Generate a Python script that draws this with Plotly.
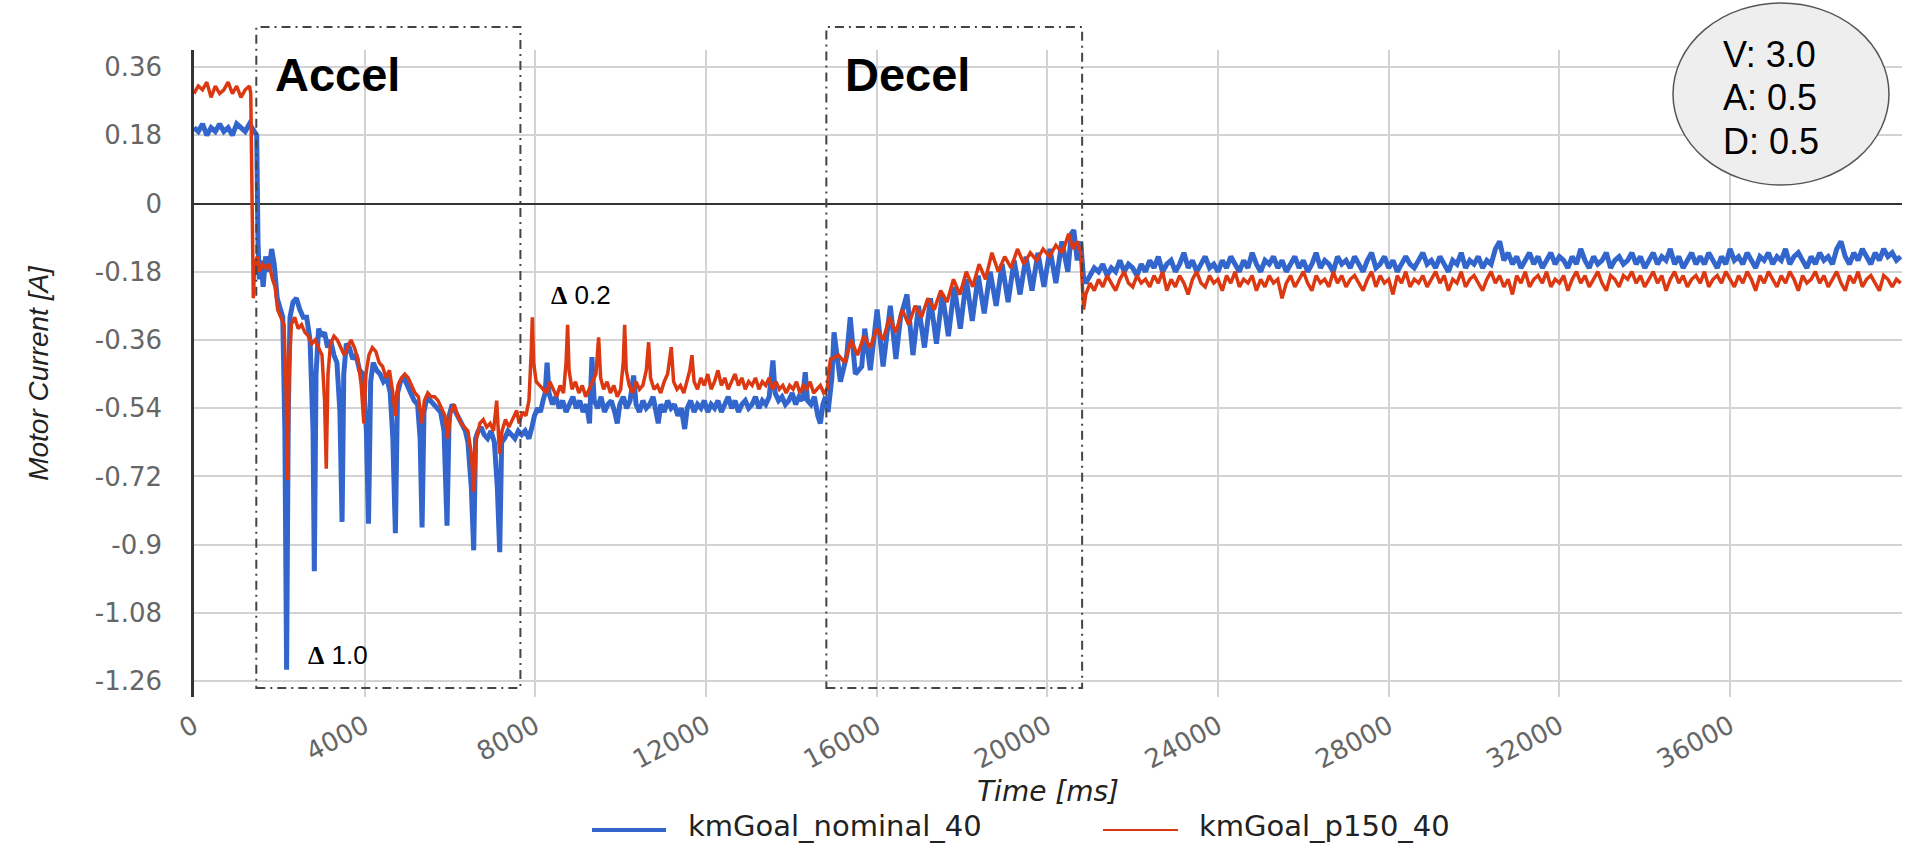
import plotly.graph_objects as go

# ---------------- kmGoal_nominal_40 : motion profile (time ms, current A) ----------------
nominal_t = [
    0, 100, 200, 300, 400, 500, 600, 700, 800, 900, 1000, 1100, 1200, 1300, 1400, 1470,
    1500, 1530, 1570, 1620, 1680, 1750, 1820, 1880, 1950, 2020, 2080, 2130, 2170, 2210,
    2250, 2320, 2400, 2480, 2560, 2640, 2720, 2790, 2820, 2860, 2920, 2990, 3060, 3130,
    3200, 3280, 3350, 3420, 3470, 3510, 3570, 3640, 3720, 3800, 3880, 3960, 4040, 4090,
    4140, 4200, 4280, 4360, 4440, 4520, 4600, 4660, 4720, 4770, 4840, 4920, 5000, 5080,
    5160, 5240, 5300, 5345, 5390, 5460, 5540, 5620, 5700, 5780, 5860, 5930, 5980, 6050,
    6130, 6210, 6290, 6360, 6420, 6500, 6555, 6600, 6660, 6730, 6800, 6880, 6960, 7040,
    7110, 7165, 7210, 7280, 7360, 7440, 7520, 7600, 7680, 7760, 7850, 7920, 7980, 8050,
    8120, 8180, 8230, 8275, 8320, 8400, 8480, 8560, 8640, 8720, 8800, 8880, 8960, 9040,
    9120, 9200, 9270, 9326, 9380, 9460, 9540, 9620, 9700, 9780, 9860, 9920, 9980, 10060,
    10140, 10220, 10304, 10360, 10440, 10520, 10600, 10680, 10760, 10840, 10880, 10940, 11020, 11100,
    11180, 11260, 11340, 11420, 11500, 11560, 11640, 11720, 11800, 11880, 11960, 12040, 12120, 12200,
    12280, 12360, 12440, 12520, 12600, 12680, 12760, 12840, 12920, 13000, 13080, 13160, 13240, 13320,
    13400, 13480, 13568, 13620, 13700, 13780, 13860, 13940, 14020, 14100, 14180, 14260, 14325, 14380,
    14460, 14540, 14620, 14680, 14740, 14800, 14860, 14900, 14950, 15000, 15150, 15300, 15380, 15500,
    15650, 15720, 15850, 16010, 16150, 16320, 16450, 16560, 16710, 16850, 16980, 17120, 17260, 17400,
    17540, 17680, 17820, 17960, 18100, 18240, 18380, 18520, 18660, 18800, 18940, 19080, 19220, 19360,
    19500, 19640, 19780, 19920, 20060, 20200, 20340, 20480, 20560, 20620, 20700, 20780, 20850,
]
nominal_a = [
    0.20, 0.19, 0.21, 0.18, 0.20, 0.19, 0.21, 0.19, 0.20, 0.18, 0.21, 0.20, 0.19, 0.21, 0.19, 0.18,
    -0.10, -0.20, -0.15, -0.22, -0.14, -0.18, -0.12, -0.16, -0.25, -0.28, -0.30, -0.60, -1.23, -0.55,
    -0.30, -0.26, -0.25, -0.28, -0.30, -0.30, -0.36, -0.60, -0.97, -0.45, -0.33, -0.35, -0.34, -0.38,
    -0.36, -0.40, -0.42, -0.55, -0.84, -0.45, -0.37, -0.38, -0.41, -0.40, -0.44, -0.45, -0.60, -0.845,
    -0.47, -0.42, -0.44, -0.45, -0.47, -0.46, -0.50, -0.62, -0.87, -0.50, -0.47, -0.46, -0.48, -0.50,
    -0.52, -0.53, -0.62, -0.855, -0.55, -0.51, -0.52, -0.53, -0.54, -0.55, -0.60, -0.85, -0.56, -0.53,
    -0.55, -0.57, -0.59, -0.60, -0.63, -0.75, -0.915, -0.62, -0.60, -0.59, -0.61, -0.62, -0.60, -0.63,
    -0.75, -0.92, -0.63, -0.62, -0.60, -0.61, -0.62, -0.60, -0.61, -0.60, -0.62, -0.59, -0.56, -0.54,
    -0.55, -0.52, -0.50, -0.42, -0.50, -0.53, -0.51, -0.54, -0.52, -0.55, -0.53, -0.51, -0.54, -0.52,
    -0.55, -0.53, -0.58, -0.405, -0.52, -0.54, -0.51, -0.55, -0.53, -0.52, -0.55, -0.58, -0.53, -0.51,
    -0.54, -0.52, -0.454, -0.53, -0.55, -0.52, -0.54, -0.53, -0.51, -0.56, -0.58, -0.53, -0.55, -0.52,
    -0.54, -0.53, -0.56, -0.54, -0.595, -0.54, -0.52, -0.55, -0.53, -0.54, -0.52, -0.55, -0.53, -0.54,
    -0.52, -0.55, -0.53, -0.51, -0.54, -0.52, -0.55, -0.53, -0.52, -0.54, -0.53, -0.51, -0.54, -0.52,
    -0.53, -0.51, -0.414, -0.50, -0.52, -0.51, -0.53, -0.52, -0.50, -0.53, -0.51, -0.52, -0.445, -0.52,
    -0.53, -0.51, -0.56, -0.58, -0.53, -0.51, -0.55, -0.50, -0.46, -0.34, -0.47, -0.40, -0.30, -0.45,
    -0.43, -0.33, -0.44, -0.28, -0.43, -0.27, -0.41, -0.30, -0.24, -0.40, -0.27, -0.38, -0.25, -0.37,
    -0.24, -0.35, -0.22, -0.33, -0.20, -0.31, -0.19, -0.29, -0.18, -0.27, -0.16, -0.26, -0.15, -0.24,
    -0.14, -0.23, -0.13, -0.22, -0.12, -0.21, -0.10, -0.18, -0.08, -0.07, -0.15, -0.10, -0.20,
]

# ---------------- kmGoal_p150_40 : motion profile (time ms, current A) ----------------
p150_t = [
    0, 100, 200, 300, 400, 500, 600, 700, 800, 900, 1000, 1100, 1200, 1300, 1330, 1360,
    1390, 1420, 1480, 1540, 1600, 1680, 1760, 1840, 1900, 1960, 2040, 2110, 2160, 2195,
    2230, 2280, 2360, 2440, 2520, 2600, 2680, 2760, 2840, 2920, 3000, 3060, 3100, 3140,
    3200, 3280, 3360, 3440, 3520, 3600, 3680, 3760, 3840, 3920, 3980, 4030, 4100, 4180,
    4260, 4340, 4420, 4500, 4580, 4660, 4720, 4780, 4860, 4940, 5020, 5100, 5180, 5260,
    5340, 5400, 5480, 5560, 5640, 5720, 5800, 5880, 5950, 6020, 6100, 6180, 6260, 6340,
    6420, 6500, 6560, 6620, 6700, 6780, 6860, 6940, 7020, 7094, 7160, 7220, 7300, 7380,
    7460, 7563, 7620, 7700, 7780, 7850, 7900, 7930, 7960, 8020, 8100, 8180, 8260, 8340,
    8420, 8500, 8580, 8660, 8720, 8756, 8790, 8860, 8940, 9020, 9100, 9180, 9260, 9340,
    9420, 9483, 9530, 9600, 9680, 9760, 9840, 9920, 10000, 10060, 10093, 10130, 10200, 10280,
    10360, 10440, 10520, 10600, 10655, 10700, 10780, 10860, 10940, 11020, 11100, 11186, 11240, 11320,
    11400, 11480, 11560, 11620, 11670, 11720, 11800, 11880, 11960, 12040, 12120, 12200, 12280, 12360,
    12440, 12520, 12600, 12680, 12760, 12840, 12920, 13000, 13080, 13160, 13240, 13320, 13400, 13480,
    13560, 13640, 13720, 13800, 13880, 13960, 14040, 14120, 14200, 14280, 14360, 14440, 14520, 14600,
    14680, 14760, 14840, 14880, 14920, 14950, 15100, 15250, 15400, 15550, 15700, 15850, 16000, 16150,
    16300, 16450, 16600, 16750, 16900, 17050, 17200, 17350, 17500, 17650, 17800, 17950, 18100, 18250,
    18400, 18550, 18700, 18850, 19000, 19150, 19300, 19450, 19600, 19750, 19900, 20050, 20200, 20350,
    20500, 20600, 20700, 20780, 20850,
]
p150_a = [
    0.29, 0.31, 0.30, 0.32, 0.28, 0.31, 0.29, 0.30, 0.32, 0.29, 0.31, 0.28, 0.30, 0.31, 0.29, -0.05,
    -0.25, -0.17, -0.14, -0.18, -0.16, -0.17, -0.16, -0.20, -0.22, -0.28, -0.30, -0.32, -0.50, -0.73,
    -0.45, -0.32, -0.30, -0.33, -0.32, -0.34, -0.35, -0.37, -0.36, -0.38, -0.40, -0.52, -0.70, -0.45,
    -0.37, -0.35, -0.36, -0.38, -0.40, -0.38, -0.36, -0.38, -0.41, -0.48, -0.58, -0.45, -0.40, -0.38,
    -0.39, -0.42, -0.43, -0.46, -0.44, -0.50, -0.56, -0.48, -0.46, -0.45, -0.46, -0.48, -0.50, -0.51,
    -0.58, -0.52, -0.50, -0.51, -0.51, -0.52, -0.54, -0.56, -0.62, -0.55, -0.53, -0.56, -0.58, -0.59,
    -0.60, -0.66, -0.76, -0.62, -0.58, -0.57, -0.59, -0.58, -0.60, -0.52, -0.66, -0.60, -0.57, -0.59,
    -0.57, -0.546, -0.58, -0.55, -0.56, -0.52, -0.40, -0.30, -0.42, -0.47, -0.48, -0.49, -0.50, -0.47,
    -0.49, -0.51, -0.48, -0.50, -0.42, -0.32, -0.44, -0.49, -0.47, -0.50, -0.48, -0.51, -0.49, -0.47,
    -0.45, -0.353, -0.46, -0.49, -0.47, -0.50, -0.48, -0.51, -0.49, -0.42, -0.32, -0.44, -0.48, -0.50,
    -0.47, -0.49, -0.48, -0.44, -0.366, -0.46, -0.49, -0.48, -0.50, -0.47, -0.45, -0.379, -0.47, -0.49,
    -0.48, -0.50, -0.47, -0.44, -0.40, -0.47, -0.49, -0.46, -0.48, -0.45, -0.49, -0.47, -0.44, -0.48,
    -0.46, -0.49, -0.47, -0.45, -0.48, -0.46, -0.49, -0.47, -0.48, -0.46, -0.49, -0.47, -0.48, -0.46,
    -0.49, -0.47, -0.49, -0.48, -0.50, -0.48, -0.49, -0.47, -0.50, -0.48, -0.49, -0.47, -0.50, -0.49,
    -0.48, -0.50, -0.49, -0.44, -0.41, -0.41, -0.40, -0.42, -0.36, -0.40, -0.35, -0.38, -0.33, -0.36,
    -0.30, -0.34, -0.28, -0.32, -0.27, -0.30, -0.25, -0.28, -0.23, -0.26, -0.20, -0.24, -0.18, -0.22,
    -0.16, -0.20, -0.13, -0.18, -0.14, -0.17, -0.12, -0.16, -0.13, -0.15, -0.12, -0.14, -0.11, -0.13,
    -0.08, -0.12, -0.10, -0.13, -0.28,
]

# ---------------- steady hold after the move, logged every 100 ms ----------------
steady_t0 = 20900
steady_dt = 100
nominal_steady = [
    -0.21, -0.19, -0.17, -0.18, -0.16, -0.19, -0.17, -0.18, -0.15, -0.18, -0.16, -0.17, -0.19, -0.16, -0.18, -0.15,
    -0.17, -0.14, -0.18, -0.16, -0.15, -0.18, -0.16, -0.13, -0.17, -0.15, -0.18, -0.16, -0.14, -0.17, -0.16, -0.18,
    -0.15, -0.17, -0.14, -0.16, -0.18, -0.15, -0.17, -0.13, -0.16, -0.18, -0.15, -0.16, -0.14, -0.17, -0.15, -0.18,
    -0.16, -0.14, -0.17, -0.15, -0.18, -0.16, -0.13, -0.17, -0.15, -0.16, -0.18, -0.14, -0.16, -0.15, -0.17, -0.14,
    -0.16, -0.18, -0.15, -0.13, -0.17, -0.16, -0.14, -0.17, -0.15, -0.18, -0.16, -0.14, -0.16, -0.17, -0.15, -0.13,
    -0.16, -0.15, -0.17, -0.14, -0.16, -0.18, -0.15, -0.16, -0.13, -0.17, -0.15, -0.16, -0.14, -0.17, -0.15, -0.16,
    -0.12, -0.10, -0.15, -0.13, -0.16, -0.14, -0.17, -0.15, -0.13, -0.16, -0.14, -0.17, -0.15, -0.13, -0.16, -0.14,
    -0.15, -0.17, -0.14, -0.16, -0.12, -0.15, -0.17, -0.14, -0.16, -0.15, -0.13, -0.17, -0.15, -0.14, -0.16, -0.15,
    -0.13, -0.16, -0.14, -0.17, -0.15, -0.13, -0.16, -0.14, -0.15, -0.12, -0.16, -0.14, -0.17, -0.15, -0.13, -0.16,
    -0.14, -0.16, -0.13, -0.15, -0.17, -0.14, -0.16, -0.12, -0.15, -0.14, -0.16, -0.13, -0.15, -0.17, -0.14, -0.15,
    -0.13, -0.16, -0.14, -0.15, -0.12, -0.16, -0.14, -0.13, -0.15, -0.17, -0.14, -0.16, -0.13, -0.15, -0.14, -0.16,
    -0.12, -0.10, -0.14, -0.16, -0.13, -0.15, -0.12, -0.14, -0.16, -0.13, -0.15, -0.12, -0.14, -0.13, -0.15, -0.14,
]
p150_steady = [
    -0.24, -0.21, -0.23, -0.20, -0.22, -0.19, -0.21, -0.23, -0.20, -0.18, -0.21, -0.22, -0.19, -0.21, -0.20, -0.22,
    -0.19, -0.21, -0.18, -0.23, -0.20, -0.22, -0.19, -0.21, -0.24, -0.20, -0.18, -0.21, -0.22, -0.19, -0.21, -0.20,
    -0.23, -0.19, -0.21, -0.18, -0.22, -0.20, -0.21, -0.19, -0.23, -0.20, -0.22, -0.19, -0.21, -0.20, -0.25, -0.21,
    -0.19, -0.22, -0.20, -0.18, -0.21, -0.23, -0.19, -0.21, -0.20, -0.22, -0.18, -0.21, -0.19, -0.22, -0.20, -0.19,
    -0.21, -0.23, -0.20, -0.18, -0.22, -0.19, -0.21, -0.20, -0.24, -0.19, -0.21, -0.18, -0.22, -0.20, -0.21, -0.19,
    -0.22, -0.20, -0.18, -0.21, -0.19, -0.23, -0.20, -0.21, -0.18, -0.22, -0.20, -0.19, -0.21, -0.23, -0.20, -0.18,
    -0.21, -0.19, -0.22, -0.20, -0.24, -0.19, -0.21, -0.18, -0.22, -0.20, -0.19, -0.21, -0.18, -0.22, -0.20, -0.21,
    -0.19, -0.23, -0.20, -0.18, -0.21, -0.19, -0.22, -0.20, -0.18, -0.21, -0.23, -0.19, -0.20, -0.22, -0.19, -0.20,
    -0.18, -0.21, -0.19, -0.22, -0.20, -0.18, -0.21, -0.19, -0.23, -0.20, -0.18, -0.21, -0.19, -0.22, -0.20, -0.19,
    -0.21, -0.18, -0.22, -0.20, -0.19, -0.21, -0.18, -0.20, -0.22, -0.19, -0.21, -0.18, -0.20, -0.23, -0.19, -0.21,
    -0.18, -0.20, -0.22, -0.19, -0.21, -0.18, -0.20, -0.23, -0.19, -0.21, -0.20, -0.18, -0.21, -0.19, -0.22, -0.20,
    -0.18, -0.21, -0.23, -0.19, -0.21, -0.18, -0.22, -0.20, -0.19, -0.21, -0.23, -0.19, -0.20, -0.22, -0.20, -0.21,
]

# axis ticks
x_ticks = [0, 4000, 8000, 12000, 16000, 20000, 24000, 28000, 32000, 36000]
x_tick_text = ["0", "4000", "8000", "12000", "16000", "20000", "24000", "28000", "32000", "36000"]
y_ticks = [0.36, 0.18, 0.0, -0.18, -0.36, -0.54, -0.72, -0.9, -1.08, -1.26]
y_tick_text = ["0.36", "0.18", "0", "-0.18", "-0.36", "-0.54", "-0.72", "-0.9", "-1.08", "-1.26"]

# motion phases (ms) and profile settings
accel_window = (1460, 7650)
decel_window = (14820, 20815)
profile_text = ["V: 3.0", "A: 0.5", "D: 0.5"]

series_names = ["kmGoal_nominal_40", "kmGoal_p150_40"]
series_colors = ["#3366cc", "#dc3912"]

# ---------------------------------------------------------------------------
nominal_x = nominal_t + [steady_t0 + k * steady_dt for k in range(len(nominal_steady))]
nominal_y = nominal_a + nominal_steady
p150_x = p150_t + [steady_t0 + k * steady_dt for k in range(len(p150_steady))]
p150_y = p150_a + p150_steady

W, H = 1905, 846
M_L, M_R, M_T, M_B = 194, 3, 50, 149
PW, PH = W - M_L - M_R, H - M_T - M_B


def px_x(px):
    """pixel column -> paper x"""
    return (px - M_L) / PW


def px_y(py):
    """pixel row -> paper y"""
    return (H - M_B - py) / PH


fig = go.Figure()
fig.add_trace(go.Scatter(x=nominal_x, y=nominal_y, mode="lines", name=series_names[0],
                         line=dict(color=series_colors[0], width=5), showlegend=False))
fig.add_trace(go.Scatter(x=p150_x, y=p150_y, mode="lines", name=series_names[1],
                         line=dict(color=series_colors[1], width=3.5), showlegend=False))

tick_font = dict(family="DejaVu Sans", size=26, color="#666666")

fig.update_layout(
    width=W, height=H,
    margin=dict(l=M_L, r=M_R, t=M_T, b=M_B),
    paper_bgcolor="white", plot_bgcolor="white",
    xaxis=dict(
        range=[0, 40030], tickvals=x_ticks, ticktext=x_tick_text, tickangle=-28,
        tickfont=tick_font, showgrid=True, gridcolor="#d3d3d3", gridwidth=2,
        zeroline=False, showline=False, ticks="", ticklabelstandoff=8,
        title=dict(text="Time [ms]", standoff=4,
                   font=dict(family="DejaVu Sans", size=28, color="#222222", style="italic")),
    ),
    yaxis=dict(
        range=[-1.302, 0.405], tickvals=y_ticks, ticktext=y_tick_text,
        tickfont=tick_font, showgrid=True, gridcolor="#d3d3d3", gridwidth=2,
        zeroline=True, zerolinecolor="#333333", zerolinewidth=2,
        showline=True, linecolor="#333333", linewidth=2.5, ticks="",
        ticklabelstandoff=24,
        title=dict(text="Motor Current [A]", standoff=38,
                   font=dict(family="Liberation Sans", size=28, color="#222222", style="italic")),
    ),
)

# dash-dot phase boxes
for x0, x1 in (accel_window, decel_window):
    fig.add_shape(type="rect", xref="x", yref="paper", x0=x0, x1=x1,
                  y0=px_y(688), y1=px_y(27),
                  line=dict(color="#444444", width=2, dash="9px,5px,2px,5px"),
                  fillcolor="rgba(0,0,0,0)", layer="above")

label_font = dict(family="Liberation Sans", size=47, color="black", weight="bold")
fig.add_annotation(text="Accel", xref="paper", yref="paper", x=px_x(273), y=px_y(74),
                   xanchor="left", yanchor="middle", showarrow=False, font=label_font)
fig.add_annotation(text="Decel", xref="paper", yref="paper", x=px_x(843), y=px_y(74),
                   xanchor="left", yanchor="middle", showarrow=False, font=label_font)

delta = '<span style="font-family:\'Liberation Serif\'"><b>\u0394</b></span>'
note_font = dict(family="Liberation Sans", size=26, color="black")
fig.add_annotation(text=delta + " 1.0", xref="paper", yref="paper", x=px_x(306), y=px_y(655),
                   xanchor="left", yanchor="middle", showarrow=False, font=note_font)
fig.add_annotation(text=delta + " 0.2", xref="paper", yref="paper", x=px_x(549), y=px_y(295),
                   xanchor="left", yanchor="middle", showarrow=False, font=note_font)

# profile settings bubble
fig.add_shape(type="circle", xref="paper", yref="paper",
              x0=px_x(1673), x1=px_x(1889), y0=px_y(185), y1=px_y(3),
              fillcolor="#eeeeee", line=dict(color="#555555", width=1.5), layer="above")
for line_text, row_px in zip(profile_text, (55, 98, 141)):
    fig.add_annotation(text=line_text, xref="paper", yref="paper",
                       x=px_x(1721), y=px_y(row_px), xanchor="left", yanchor="middle",
                       showarrow=False, font=dict(family="Liberation Sans", size=36, color="black"))

# legend drawn below the axis title
legend_y = px_y(826)
legend_items = [(592, 666, 686, 4), (1103, 1178, 1197, 2)]
for (lx0, lx1, tx, lw), name, color in zip(legend_items, series_names, series_colors):
    fig.add_shape(type="line", xref="paper", yref="paper", x0=px_x(lx0), x1=px_x(lx1),
                  y0=px_y(830), y1=px_y(830), line=dict(color=color, width=lw))
    fig.add_annotation(text=name, xref="paper", yref="paper", x=px_x(tx), y=legend_y,
                       xanchor="left", yanchor="middle", showarrow=False,
                       font=dict(family="DejaVu Sans", size=29, color="#222222"))

fig.write_html("out.html")
